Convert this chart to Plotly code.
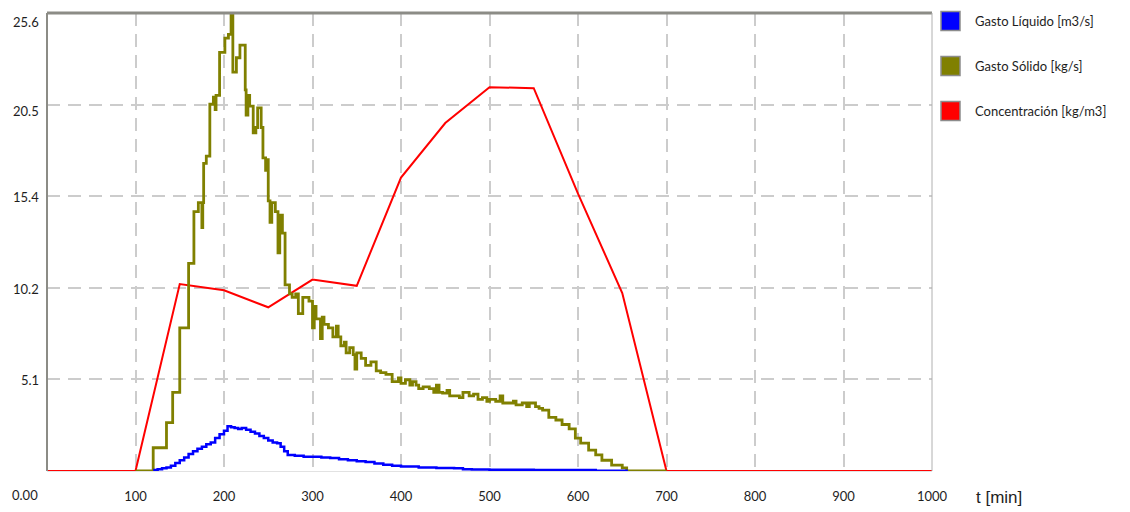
import plotly.graph_objects as go

# ---------------- data ----------------
red_t = [0, 100, 150, 200, 250, 300, 350, 400, 450, 500, 550, 600, 650, 700, 1000]
red_v = [0, 0, 10.45, 10.1, 9.15, 10.7, 10.35, 16.4, 19.45, 21.45, 21.4, 15.5, 9.95, 0, 0]

olive_t = [100, 120, 135, 142, 150, 160, 166, 171, 175, 176,
           177, 180, 184, 188, 190, 191, 195, 201, 205, 208,
           210, 214, 218, 224, 225, 227, 229, 233, 236, 238,
           242, 244, 247, 249, 250, 252, 254, 258, 261, 263,
           266, 269, 274, 277, 281, 284, 289, 296, 300, 302,
           304, 309, 311, 313, 318, 323, 327, 329, 332, 336,
           338, 342, 346, 348, 350, 355, 360, 366, 372, 377,
           383, 390, 397, 400, 405, 410, 413, 417, 420, 425,
           432, 437, 440, 443, 447, 452, 455, 462, 466, 470,
           477, 482, 487, 492, 497, 500, 507, 512, 515, 522,
           527, 530, 537, 542, 545, 552, 556, 560, 567, 575,
           582, 590, 597, 603, 612, 620, 627, 638, 650, 655,
           700]
olive_v = [0, 1.3, 2.7, 4.4, 8.0, 11.6, 14.5, 15.0, 13.6, 15.0,
           17.2, 17.6, 20.5, 20.9, 20.2, 21.0, 23.4, 24.2, 24.4, 25.6,
           22.3, 23.1, 23.8, 21.3, 19.9, 21.0, 20.4, 18.9, 19.2, 20.3,
           19.2, 17.5, 16.8, 17.4, 15.1, 13.9, 15.0, 14.5, 12.2, 14.3,
           13.3, 10.4, 9.9, 9.7, 9.9, 8.8, 9.7, 9.5, 8.0, 9.2,
           8.5, 7.4, 8.6, 8.2, 8.0, 7.5, 8.1, 7.5, 7.0, 7.2,
           6.6, 6.9, 6.5, 5.7, 6.6, 6.3, 5.9, 6.1, 5.6, 5.5,
           5.4, 5.0, 5.2, 4.9, 5.1, 4.8, 5.0, 4.8, 4.6, 4.7,
           4.6, 4.4, 4.8, 4.4, 4.35, 4.5, 4.2, 4.2, 4.1, 4.4,
           4.2, 4.3, 4.0, 4.1, 3.9, 4.0, 3.9, 4.2, 3.8, 3.8,
           3.9, 3.7, 3.8, 3.6, 3.8, 3.6, 3.5, 3.4, 3.0, 2.85,
           2.6, 2.35, 1.84, 1.56, 1.17, 0.9, 0.6, 0.33, 0.17, 0,
           0]

blue_t = [120, 125, 130, 135, 140, 145, 150, 155, 160, 165,
          170, 175, 180, 185, 190, 195, 200, 204, 208, 212,
          216, 220, 225, 230, 235, 240, 245, 250, 255, 260,
          264, 268, 272, 280, 290, 300, 310, 320, 330, 340,
          350, 360, 370, 380, 390, 400, 420, 440, 460, 470,
          480, 500, 550, 600, 620, 655]
blue_v = [0.05, 0.1, 0.15, 0.2, 0.3, 0.45, 0.6, 0.75, 0.95, 1.1,
          1.25, 1.35, 1.5, 1.6, 1.85, 2.05, 2.25, 2.5, 2.45, 2.4,
          2.35, 2.4, 2.3, 2.2, 2.1, 1.95, 1.85, 1.7, 1.6, 1.55,
          1.35, 1.1, 0.9, 0.85, 0.8, 0.8, 0.75, 0.72, 0.65, 0.6,
          0.55, 0.5, 0.42, 0.35, 0.3, 0.25, 0.2, 0.17, 0.15, 0.1,
          0.08, 0.07, 0.06, 0.05, 0.02, 0.0]

y_ticks = [5.12, 10.24, 15.36, 20.48, 25.6]
y_labels = ["5.1", "10.2", "15.4", "20.5", "25.6"]
y_label_drop = [1, 1, 1, 6, 9]   # labels sit slightly below their grid lines (px)
x_ticks = [100, 200, 300, 400, 500, 600, 700, 800, 900, 1000]
x_labels = ["100", "200", "300", "400", "500", "600", "700", "800", "900", "1000"]

series_names = ["Gasto Líquido [m3/s]", "Gasto Sólido [kg/s]", "Concentración [kg/m3]"]
series_colors = ["#0000FF", "#808000", "#FF0000"]

FONT = "Lato, 'Open Sans', 'DejaVu Sans', sans-serif"
TXT = "#1e1e1e"

# page offset (browser body margin) compensation
OFF = 8
L, T, R, B = 47 - OFF, 13 - OFF, 932 - OFF, 471 - OFF  # plot area in figure px
W, H = 1130, 512

fig = go.Figure()
fig.add_trace(go.Scatter(x=red_t, y=red_v, mode="lines", line=dict(color=series_colors[2], width=2),
                         name=series_names[2], showlegend=False))
fig.add_trace(go.Scatter(x=olive_t, y=olive_v, mode="lines", line=dict(color=series_colors[1], width=2.8, shape="hv"),
                         name=series_names[1], showlegend=False))
fig.add_trace(go.Scatter(x=blue_t, y=blue_v, mode="lines", line=dict(color=series_colors[0], width=2.5, shape="hv"),
                         name=series_names[0], showlegend=False))

fig.update_layout(
    width=W, height=H,
    margin=dict(l=L, r=W - R, t=T, b=H - B, autoexpand=False),
    paper_bgcolor="white", plot_bgcolor="white",
    font=dict(family=FONT, size=13, color=TXT),
    showlegend=False,
)
fig.update_xaxes(range=[0, 1000], tickvals=x_ticks, ticktext=x_labels, automargin=False,
                 showgrid=True, gridcolor="#cccccc", griddash="13px,8px", gridwidth=1.5,
                 zeroline=False, showline=True, linecolor="#e2e2e2", linewidth=1, mirror=True,
                 ticks="outside", ticklen=13, tickcolor="rgba(0,0,0,0)",
                 tickfont=dict(size=13, family=FONT, color=TXT))
fig.update_yaxes(range=[0, 25.6], tickvals=y_ticks, automargin=False,
                 showgrid=True, gridcolor="#cccccc", griddash="13px,8px", gridwidth=1.5,
                 zeroline=False, showline=False, showticklabels=False, ticks="")

# y tick labels as text placed at their tick values
for val, lab, drop in zip(y_ticks, y_labels, y_label_drop):
    fig.add_annotation(text=lab, xref="paper", yref="y", x=0, y=val, xanchor="right", yanchor="middle",
                       xshift=-6, yshift=-drop, showarrow=False,
                       font=dict(size=13, family=FONT, color=TXT))

# frame: thick gray top and left, thin right
fig.add_shape(type="line", xref="paper", yref="paper", x0=0, x1=1, y0=1, y1=1,
              line=dict(color="#8c8c86", width=3))
fig.add_shape(type="line", xref="paper", yref="paper", x0=0, x1=0, y0=0, y1=1,
              line=dict(color="#8c8c86", width=2))
fig.add_shape(type="line", xref="paper", yref="paper", x0=1, x1=1, y0=0, y1=1,
              line=dict(color="#b0b0b0", width=1))

plot_w = R - L
plot_h = B - T
def px_x(px):
    return (px - OFF - L) / plot_w
def px_y(py):
    return (B - (py - OFF)) / plot_h

# "0.00" label and axis title
fig.add_annotation(text="0.00", xref="paper", yref="paper", x=px_x(25), y=px_y(495),
                   showarrow=False, xanchor="center", yanchor="middle",
                   font=dict(size=13, family=FONT, color=TXT))
fig.add_annotation(text="t [min]", xref="paper", yref="paper", x=px_x(974), y=px_y(497),
                   showarrow=False, xanchor="left", yanchor="middle",
                   font=dict(size=17, family="'Liberation Sans Narrow', 'Liberation Sans', sans-serif", color=TXT))

# legend (drawn manually)
legend_rows = [21, 66, 111]
for name, color, cy in zip(series_names, series_colors, legend_rows):
    fig.add_shape(type="rect", xref="paper", yref="paper",
                  x0=px_x(941), x1=px_x(960), y0=px_y(cy + 9.5), y1=px_y(cy - 9.5),
                  fillcolor=color, line=dict(color="#8c8c8c", width=1.5))
    fig.add_annotation(text=name, xref="paper", yref="paper", x=px_x(973), y=px_y(cy),
                       showarrow=False, xanchor="left", yanchor="middle",
                       font=dict(size=13, family=FONT, color=TXT))

fig.write_html("out.html")
